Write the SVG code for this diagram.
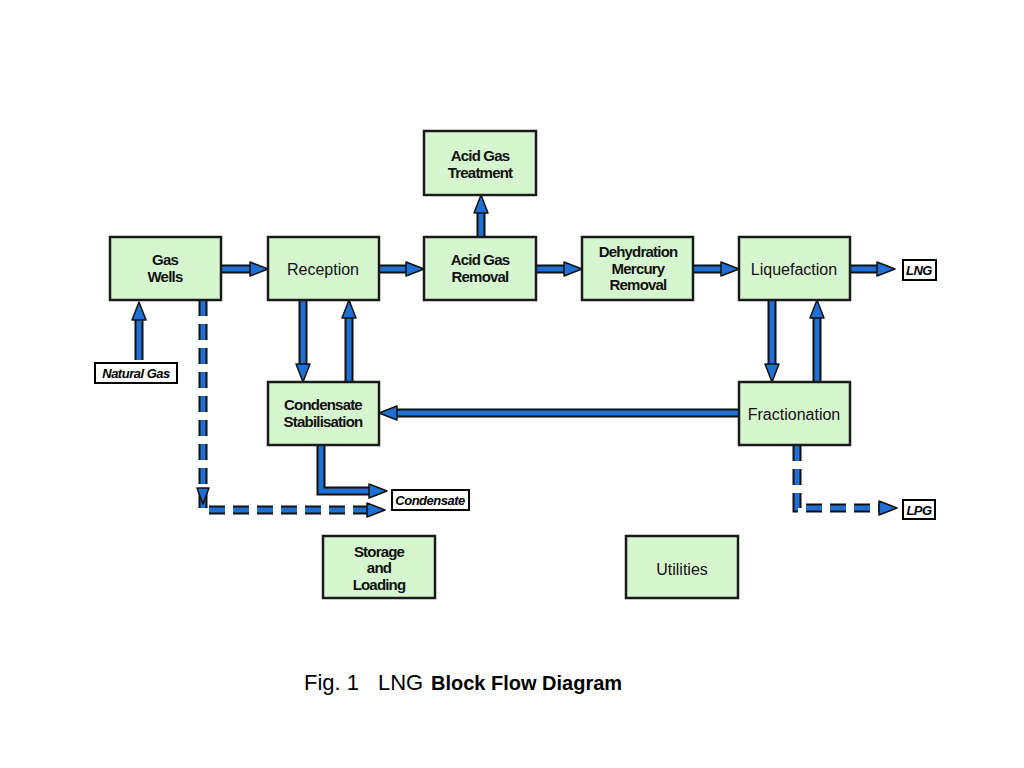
<svg xmlns="http://www.w3.org/2000/svg" width="1024" height="768" viewBox="0 0 1024 768">
<style>
.box{fill:#d6f6d0;stroke:#1a1a1a;stroke-width:2.5}
.t{font-family:"Liberation Sans",Arial,sans-serif;font-size:16px;fill:#111;text-anchor:middle}
.tb{font-size:15px;font-weight:bold;letter-spacing:-0.8px}
.lab{fill:#fff;stroke:#000;stroke-width:2}
.lt{font-family:"Liberation Sans",Arial,sans-serif;font-size:13px;font-weight:bold;font-style:italic;fill:#000;text-anchor:middle;letter-spacing:-0.5px}
.so{fill:none;stroke:#111;stroke-width:9}
.si{fill:none;stroke:#1f6fd4;stroke-width:5}
.d{stroke-dasharray:16 8}
.hd{fill:#1f6fd4;stroke:#111;stroke-width:1.5;stroke-linejoin:round}
</style>
<rect width="1024" height="768" fill="#fff"/>
<g id="connectors">
<path class="so" d="M221 269H252M379 269H408M536 269H566M693 269H723M850 269H879M481 237V211M139 360V318M303 300V366M349 382V316M772 300V366M817 382V316M739 413H395M321 445V491H371"/>
<path class="si" d="M221 269H252M379 269H408M536 269H566M693 269H723M850 269H879M481 237V211M139 360V318M303 300V366M349 382V316M772 300V366M817 382V316M739 413H395M321 445V491H371"/>
<path class="so d" d="M203 300V510H369M797 445V508H881"/>
<path class="si d" d="M203 300V510H369M797 445V508H881"/>
<polygon class="hd" points="250,262 268,269 250,276"/>
<polygon class="hd" points="406,262 424,269 406,276"/>
<polygon class="hd" points="564,262 582,269 564,276"/>
<polygon class="hd" points="721,262 739,269 721,276"/>
<polygon class="hd" points="877,262 895,269 877,276"/>
<polygon class="hd" points="474,213 481,195 488,213"/>
<polygon class="hd" points="132,320 139,302 146,320"/>
<polygon class="hd" points="296,364 303,382 310,364"/>
<polygon class="hd" points="342,318 349,300 356,318"/>
<polygon class="hd" points="765,364 772,382 779,364"/>
<polygon class="hd" points="810,318 817,300 824,318"/>
<polygon class="hd" points="397,406 379,413 397,420"/>
<polygon class="hd" points="369,484 387,491 369,498"/>
<polygon class="hd" points="367,503 385,510 367,517"/>
<polygon class="hd" points="879,501 897,508 879,515"/>
<polygon class="hd" points="197,488 203,504 209,488"/>
</g>
<g id="gas-wells"><rect class="box" x="110" y="237" width="111" height="63"/><text class="t tb" x="165" y="265">Gas</text><text class="t tb" x="165" y="282">Wells</text></g>
<g id="reception"><rect class="box" x="268" y="237" width="111" height="63"/><text class="t" x="323" y="275">Reception</text></g>
<g id="acid-gas-removal"><rect class="box" x="424" y="237" width="112" height="63"/><text class="t tb" x="480" y="265">Acid Gas</text><text class="t tb" x="480" y="282">Removal</text></g>
<g id="dehydration"><rect class="box" x="582" y="237" width="111" height="63"/><text class="t tb" x="638" y="257">Dehydration</text><text class="t tb" x="638" y="274">Mercury</text><text class="t tb" x="638" y="290">Removal</text></g>
<g id="liquefaction"><rect class="box" x="739" y="237" width="111" height="63"/><text class="t" x="794" y="275">Liquefaction</text></g>
<g id="acid-gas-treatment"><rect class="box" x="424" y="131" width="112" height="64"/><text class="t tb" x="480" y="161">Acid Gas</text><text class="t tb" x="480" y="178">Treatment</text></g>
<g id="condensate-stabilisation"><rect class="box" x="268" y="382" width="111" height="63"/><text class="t tb" x="323" y="410">Condensate</text><text class="t tb" x="323" y="427">Stabilisation</text></g>
<g id="fractionation"><rect class="box" x="739" y="382" width="111" height="63"/><text class="t" x="794" y="420">Fractionation</text></g>
<g id="storage-loading"><rect class="box" x="323" y="536" width="112" height="62"/><text class="t tb" x="379" y="557">Storage</text><text class="t tb" x="379" y="573">and</text><text class="t tb" x="379" y="590">Loading</text></g>
<g id="utilities"><rect class="box" x="626" y="536" width="112" height="62"/><text class="t" x="682" y="575">Utilities</text></g>
<g id="natural-gas"><rect class="lab" x="95" y="363" width="82" height="20"/><text class="lt" x="136" y="378">Natural Gas</text></g>
<g id="condensate"><rect class="lab" x="392" y="490" width="77" height="20"/><text class="lt" x="430" y="505" font-weight="normal">Condensate</text></g>
<g id="lng"><rect class="lab" x="903" y="260" width="33" height="20"/><text class="lt" x="919" y="275">LNG</text></g>
<g id="lpg"><rect class="lab" x="903" y="500" width="32" height="19"/><text class="lt" x="919" y="515">LPG</text></g>
<g id="title" font-family="'Liberation Sans',Arial,sans-serif" fill="#000">
<text x="304" y="690" font-size="22">Fig. 1</text>
<text x="378" y="690" font-size="22">LNG</text>
<text x="431" y="690" font-size="20" font-weight="bold">Block Flow Diagram</text>
</g>
</svg>
